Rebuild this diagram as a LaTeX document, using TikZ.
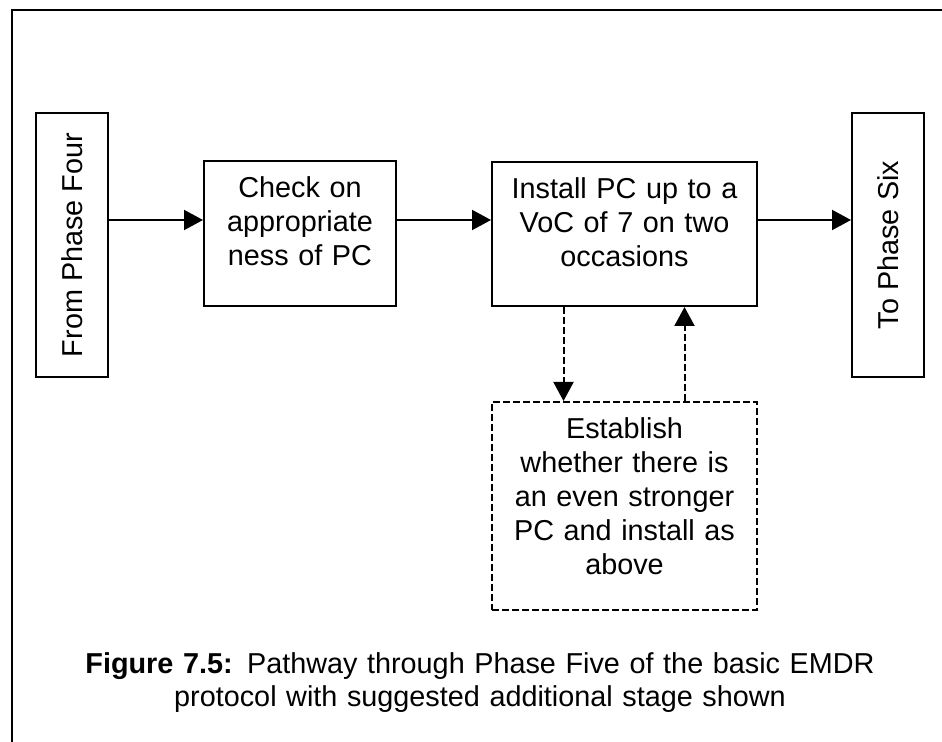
\documentclass[tikz,border=0pt]{standalone}
\usepackage{fontspec}
\setmainfont{Liberation Sans}
\usepackage{tikz}
\usetikzlibrary{arrows.meta}

\newcommand\stagefont{\fontsize{14.4}{17}\selectfont}

\tikzset{
	stage/.style = {draw, line width = 1pt, inner sep = 0pt, font = \stagefont},
	textbox/.style = {stage, text width = #1, align = center, text height = 18.5pt},
	flow/.style = {line width = 1pt, -{Triangle[length = 9.5pt, width = 10pt]}},
	maybe/.style = {dash pattern = on 3.5pt off 1.5pt}
}

\begin{document}
\begin{tikzpicture}[x = 0.5pt, y = -0.5pt]
	%page size and frame
	\useasboundingbox (0,0) rectangle (942,742);
	\draw [line width = 1pt] (942,10) -- (12,10) -- (12,742);
	
	%height of the main arrows
	\coordinate (row) at (0,220);
	
	%stages
	\node [stage, rotate = 90, minimum width = 132pt, minimum height = 36pt] (from) at (72,245) {From Phase Four};
	\node [textbox = 96pt, text depth = 54pt] (check) at (300,233.5) {Check on\\ appropriate\\ ness of PC};
	\node [textbox = 132.5pt, text depth = 53.5pt] (install) at (624.5,234) {Install PC up to a\\ VoC of 7 on two\\ occasions};
	\node [stage, rotate = 90, minimum width = 132pt, minimum height = 36pt] (six) at (888,245) {To Phase Six};
	
	%suggested additional stage
	\node [textbox = 132.5pt, text depth = 85.5pt, maybe] (extra) at (624.5,506) {Establish\\ whether there is\\ an even stronger\\ PC and install as\\ above};
	
	%arrows
	\draw [flow] (from.south |- row) -- (check.west |- row);
	\draw [flow] (check.east |- row) -- (install.west |- row);
	\draw [flow] (install.east |- row) -- (six.north |- row);
	\draw [flow, maybe] ([xshift = -30.5pt]install.south) -- ([xshift = -30.5pt]extra.north);
	\draw [flow, maybe] ([xshift = 30pt]extra.north) -- ([xshift = 30pt]install.south);
	
	%caption
	\node [text width = 450pt, align = center, inner sep = 0pt, anchor = base, font = \stagefont] (caption) at (480,673) {\textbf{Figure 7.5:} Pathway through Phase Five of the basic EMDR\\ protocol with suggested additional stage shown};
\end{tikzpicture}
\end{document}
